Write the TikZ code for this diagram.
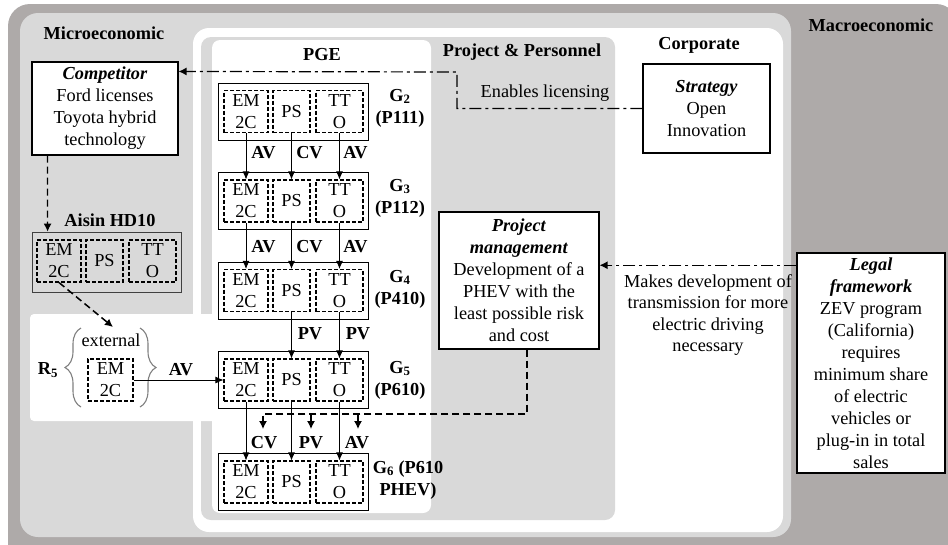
\documentclass[tikz,border=0pt]{standalone}
\usepackage{fontspec}
\setmainfont{Liberation Serif}
\usetikzlibrary{arrows.meta,decorations.pathreplacing}
\definecolor{macro}{RGB}{174,170,169}
\definecolor{micro}{RGB}{217,217,217}
\definecolor{bracegray}{RGB}{128,128,128}
\newcommand{\mkgbox}[2]{%
  \node[gouter] (#1) at (293,#2) {};
  \node[dbox,minimum width=44pt] (#1em) at (246,#2) {EM\\2C};
  \node[dbox,minimum width=37pt] (#1ps) at (291.5,#2) {PS};
  \node[dbox,minimum width=47pt] (#1tt) at (339.5,#2) {TT\\O};
}
\begin{document}
\begin{tikzpicture}[x=1pt,y=-1pt,
  txt/.style={font=\fontsize{18.3pt}{22pt}\selectfont, align=center, inner sep=0pt},
  btxt/.style={txt, font=\fontsize{18.3pt}{22pt}\selectfont\bfseries},
  box/.style={txt, draw, fill=white, line width=1.1pt},
  dbox/.style={txt, draw, dash pattern=on 4pt off 2pt, line width=1.1pt, minimum height=42pt},
  gouter/.style={draw, line width=0.8pt, fill=white, minimum width=150pt, minimum height=57pt, inner sep=0pt},
  sarr/.style={line width=0.8pt, -{Latex[length=8pt,width=7pt]}},
  darr/.style={line width=1.2pt, dash pattern=on 7pt off 4pt, -{Latex[length=8pt,width=8pt]}},
  dline/.style={line width=1.2pt, dash pattern=on 7pt off 4pt},
  ddarr/.style={line width=1.2pt, dash pattern=on 12pt off 4pt on 3pt off 4pt, -{Latex[length=8pt,width=8pt]}},
  bracestyle/.style={bracegray, line width=1.1pt, decorate, decoration={brace, amplitude=16pt}}
]
\useasboundingbox (0,0) rectangle (948,544);
% backgrounds
\fill[macro, rounded corners=22pt] (8,4) rectangle (958,572);
\fill[micro, rounded corners=18pt] (20,13) rectangle (791,537);
\fill[white, rounded corners=16pt] (193,28) rectangle (783,532);
\fill[micro, rounded corners=10pt] (201,37) rectangle (615,520);
\fill[white, rounded corners=8pt] (212,40) rectangle (431,513);
\fill[white, rounded corners=4pt] (30,314) rectangle (216,421);

% region titles
\node[btxt] (microlab) at (104,33) {Microeconomic};
\node[btxt] (macrolab) at (871,25) {Macroeconomic};
\node[btxt] (corplab) at (699,45) {Corporate};
\node[btxt] (projlab) at (522,52) {Project \& Personnel};
\node[btxt] (pgelab) at (322,55) {PGE};

% competitor
\node[box, minimum width=146pt, minimum height=93pt] (comp) at (105,108.5)
  {\textbf{\textit{Competitor}}\\Ford licenses\\Toyota hybrid\\technology};

% Aisin
\node[btxt] (aisinlab) at (110,220) {Aisin HD10};
\node[draw=black!75, fill=micro, line width=0.8pt, minimum width=149pt, minimum height=60pt, inner sep=0pt] (aisin) at (106.5,262) {};
\node[dbox, fill=micro, minimum width=44pt] (aem) at (59,261) {EM\\2C};
\node[dbox, fill=micro, minimum width=37pt] (aps) at (104.5,261) {PS};
\node[dbox, fill=micro, minimum width=47pt] (att) at (152.5,261) {TT\\O};

% G boxes
\mkgbox{g2}{111.5}
\mkgbox{g3}{201}
\mkgbox{g4}{290.5}
\mkgbox{g5}{380}
\mkgbox{g6}{482}

\node[btxt] (l2) at (400,108) {G\textsubscript{2}\\(P111)};
\node[btxt] (l3) at (400,198) {G\textsubscript{3}\\(P112)};
\node[btxt] (l4) at (400,289) {G\textsubscript{4}\\(P410)};
\node[btxt] (l5) at (400,380) {G\textsubscript{5}\\(P610)};
\node[btxt] (l6) at (408,480) {G\textsubscript{6} (P610\\PHEV)};

% vertical arrows
\draw[sarr] (g2em) -- (g3em);
\draw[sarr] (g2ps) -- (g3ps);
\draw[sarr] (g2tt) -- (g3tt);
\draw[sarr] (g3em) -- (g4em);
\draw[sarr] (g3ps) -- (g4ps);
\draw[sarr] (g3tt) -- (g4tt);
\draw[sarr] (g4ps) -- (g5ps);
\draw[sarr] (g4tt) -- (g5tt);
\draw[sarr] (g5em) -- (g6em);
\draw[sarr] (g5ps) -- (g6ps);
\draw[sarr] (g5tt) -- (g6tt);

\node[btxt] (a1) at (263.5,153) {AV};
\node[btxt] (a2) at (309.5,153) {CV};
\node[btxt] (a3) at (355.5,153) {AV};
\node[btxt] (b1) at (263.5,247) {AV};
\node[btxt] (b2) at (309.5,247) {CV};
\node[btxt] (b3) at (355.5,247) {AV};
\node[btxt] (c2) at (310,334) {PV};
\node[btxt] (c3) at (358,334) {PV};
\node[btxt] (d1) at (264,443) {CV};
\node[btxt] (d2) at (311,443) {PV};
\node[btxt] (d3) at (357,443) {AV};

% project management
\node[box, minimum width=160pt, minimum height=137pt] (pm) at (519,280.5)
  {\textbf{\textit{Project}}\\\textbf{\textit{management}}\\Development of a\\PHEV with the\\least possible risk\\and cost};

% strategy
\node[box, minimum width=127pt, minimum height=89pt] (strat) at (706.5,108.5)
  {\textbf{\textit{Strategy}}\\Open\\Innovation};

% legal
\node[box, line width=1.5pt, minimum width=148pt, minimum height=220pt] (legal) at (871,363)
  {\textbf{\textit{Legal}}\\\textbf{\textit{framework}}\\ZEV program\\(California)\\requires\\minimum share\\of electric\\vehicles or\\plug-in in total\\sales};

\node[txt] (enab) at (545,93) {Enables licensing};
\node[txt, font=\fontsize{18.3pt}{21.5pt}\selectfont] (makes) at (708,315)
  {Makes development of\\transmission for more\\electric driving\\necessary};

% dash-dot connectors
\draw[ddarr] (strat.west) -- (457,108.5) -- (457,72) -- ([yshift=-10pt]comp.north east);
\coordinate (lg) at ([yshift=-13pt]legal.north west);
\draw[ddarr] (lg) -- (pm.east |- lg);

% dashed from project management
\coordinate (pmd) at ([xshift=8pt]pm.south);
\coordinate (t1) at (263,414);
\coordinate (t2) at (311,414);
\coordinate (t3) at (358,414);
\draw[darr] (pmd) |- (t1) -- ++(0,15);
\draw[darr] (t2) -- ++(0,15);
\draw[darr] (t3) -- ++(0,15);

% competitor -> Aisin
\draw[darr] ([xshift=16pt]comp.south west) -- ([xshift=16pt]aisin.north west);

% R5
\coordinate (r5t) at (113,327);
\draw[darr, line width=1.5pt] (aem.south) -- (r5t);
\node[btxt] (r5) at (48,370) {R\textsubscript{5}};
\draw[bracestyle] (81,407) -- (81,328);
\draw[bracestyle] (140,328) -- (140,407);
\node[txt] (ext) at (111,340) {external};
\node[dbox, minimum width=45pt] (r5em) at (110.5,380) {EM\\2C};
\draw[sarr] (r5em) -- (g5em);
\node[btxt] (av5) at (181,370) {AV};
\end{tikzpicture}
\end{document}
